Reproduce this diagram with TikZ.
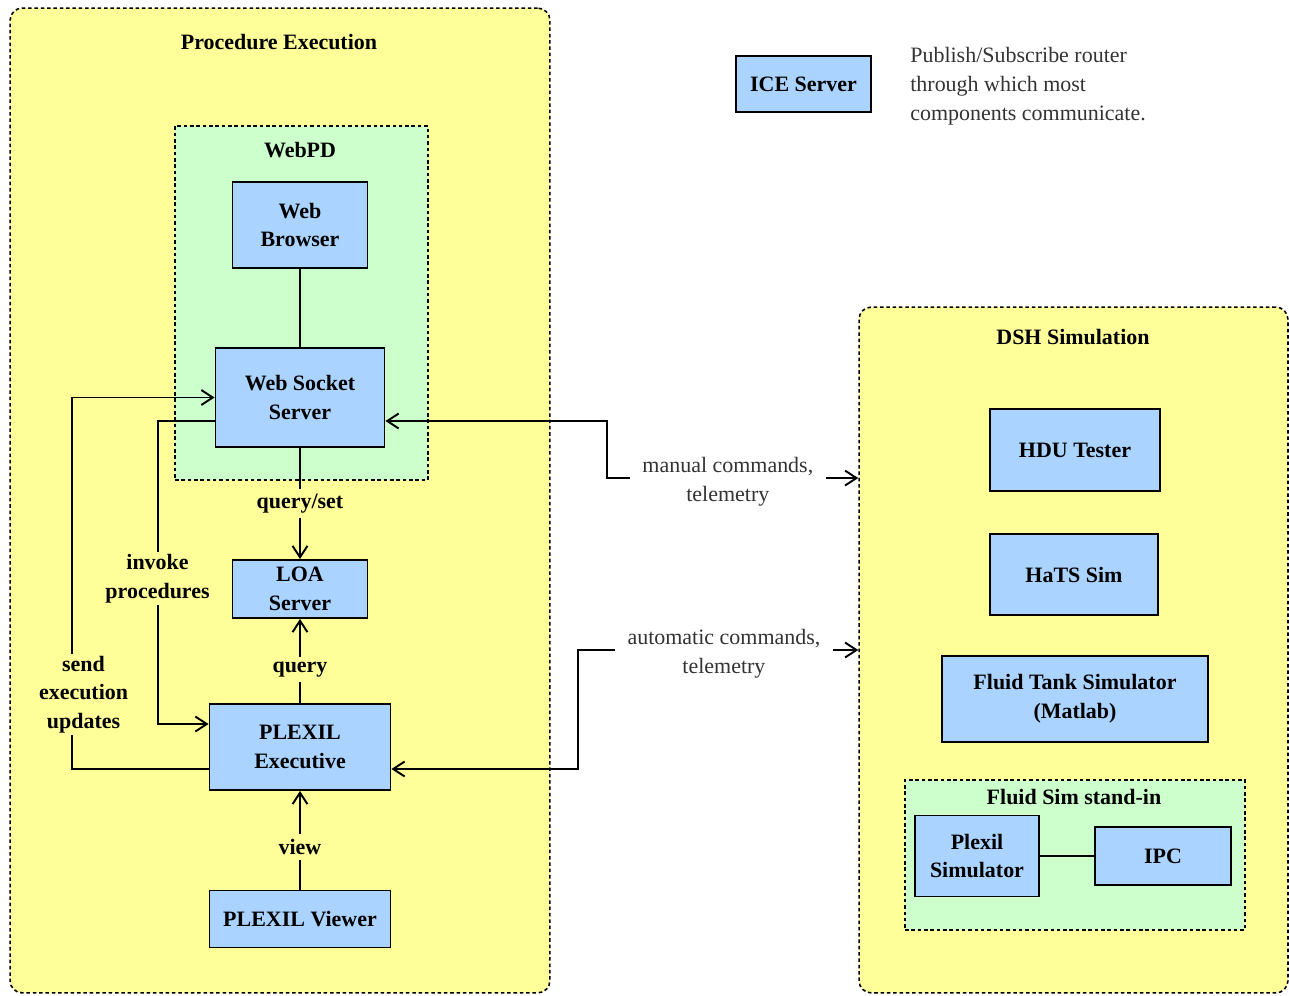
\documentclass[tikz,border=0pt]{standalone}
\usepackage{fontspec}
\setmainfont{Liberation Serif}
\usetikzlibrary{arrows.meta}
\definecolor{groupyellow}{HTML}{FFFF99}
\definecolor{groupgreen}{HTML}{CCFFCC}
\definecolor{compblue}{HTML}{AAD4FF}
\definecolor{notegray}{HTML}{333333}
\tikzset{
  regfont/.style={font=\fontsize{12.5}{16.4}\selectfont},
  boldfont/.style={font=\bfseries\fontsize{12.5}{16.4}\selectfont},
  comp/.style={boldfont, align=center, draw=black, line width=1.1pt, fill=compblue, inner sep=0pt},
  group/.style={draw=black, line width=0.9pt, dash pattern=on 2pt off 1.6pt, fill=groupyellow, rounded corners=7pt, inner sep=0pt},
  subgroup/.style={draw=black, line width=0.9pt, dash pattern=on 2pt off 1.6pt, fill=groupgreen, inner sep=0pt},
  grouptitle/.style={boldfont, inner sep=0pt},
  lbl/.style={boldfont, align=center, fill=groupyellow, inner xsep=2pt, inner ysep=3pt},
  note/.style={regfont, align=center, text=notegray, fill=white, inner xsep=7pt, inner ysep=2pt, yshift=-0.08cm},
  tip/.tip={Straight Barb[length=6.5pt,width=8.5pt]},
  link/.style={line width=1.1pt},
  arr/.style={line width=1.1pt, -tip},
  biarr/.style={line width=1.1pt, tip-tip},
}
\begin{document}
\begin{tikzpicture}[x=0.02cm, y=-0.02cm]
\useasboundingbox (0,0) rectangle (1289,995);

% containers
\node[group, minimum width=10.8cm, minimum height=19.7cm] (pex) at (280,500.5) {};
\node[grouptitle] (pextitle) at (279,42) {Procedure Execution};
\node[subgroup, minimum width=5.06cm, minimum height=7.08cm] (webpd) at (301.5,303) {};
\node[grouptitle] (webpdtitle) at (300,150) {WebPD};

\node[group, minimum width=8.58cm, minimum height=13.72cm] (dsh) at (1073.5,650) {};
\node[grouptitle] (dshtitle) at (1073,337) {DSH Simulation};
\node[subgroup, minimum width=6.8cm, minimum height=3cm] (fluidsim) at (1075,855) {};
\node[grouptitle] (fluidsimtitle) at (1074,797) {Fluid Sim stand-in};

% components: procedure execution side
\node[comp, minimum width=2.7cm, minimum height=1.72cm] (wb) at (300,225) {Web\\Browser};
\node[comp, minimum width=3.38cm, minimum height=1.98cm] (wss) at (300,397.5) {Web Socket\\Server};
\node[comp, minimum width=2.7cm, minimum height=1.16cm] (loa) at (300,589) {LOA\\Server};
\node[comp, minimum width=3.62cm, minimum height=1.72cm] (pe) at (300,747) {PLEXIL\\Executive};
\node[comp, minimum width=3.62cm, minimum height=1.14cm] (pv) at (300,919) {PLEXIL Viewer};

% legend
\node[comp, minimum width=2.7cm, minimum height=1.12cm] (ice) at (803.5,84) {ICE Server};
\node[regfont, text=notegray, align=left, anchor=west, inner sep=0pt] (legend) at (910,86)
  {Publish/Subscribe router\\through which most\\components communicate.};

% components: simulation side
\node[comp, minimum width=3.4cm, minimum height=1.64cm] (hdu) at (1075,450) {HDU Tester};
\node[comp, minimum width=3.36cm, minimum height=1.62cm] (hats) at (1074,574.5) {HaTS Sim};
\node[comp, minimum width=5.32cm, minimum height=1.72cm] (fts) at (1075,699) {Fluid Tank Simulator\\(Matlab)};
\node[comp, minimum width=2.48cm, minimum height=1.62cm] (ps) at (977,856) {Plexil\\Simulator};
\node[comp, minimum width=2.72cm, minimum height=1.16cm] (ipc) at (1163,856) {IPC};

% connectors
\draw[link] (wb) -- (wss);
\draw[arr] (wss) -- node[lbl, pos=0.5] {query/set} (loa);
\draw[arr] (pe) -- node[lbl, pos=0.4] {query} (loa);
\draw[arr] (pv) -- node[lbl, pos=0.43] {view} (pe);

\draw[arr] ([yshift=-0.47cm]wss.west) -- ++(-57,0)
  |- node[lbl, pos=0.26, inner ysep=1pt] {invoke\\procedures} ([yshift=0.46cm]pe.west);
\draw[arr] ([yshift=-0.44cm]pe.west) -- ++(-137,0)
  |- node[lbl, pos=0.1, inner ysep=1pt, xshift=0.24cm] {send\\execution\\updates} (wss.west);

\draw[biarr] ([yshift=-0.47cm]wss.east) -- ++(222,0)
  |- node[note, pos=0.74] {manual commands,\\telemetry} ([yshift=3.44cm]dsh.west);
\draw[biarr] ([yshift=-0.44cm]pe.east) -- ++(187,0)
  |- node[note, pos=0.76] {automatic commands,\\telemetry} (dsh.west);

\draw[link] (ps) -- (ipc);
\end{tikzpicture}
\end{document}
